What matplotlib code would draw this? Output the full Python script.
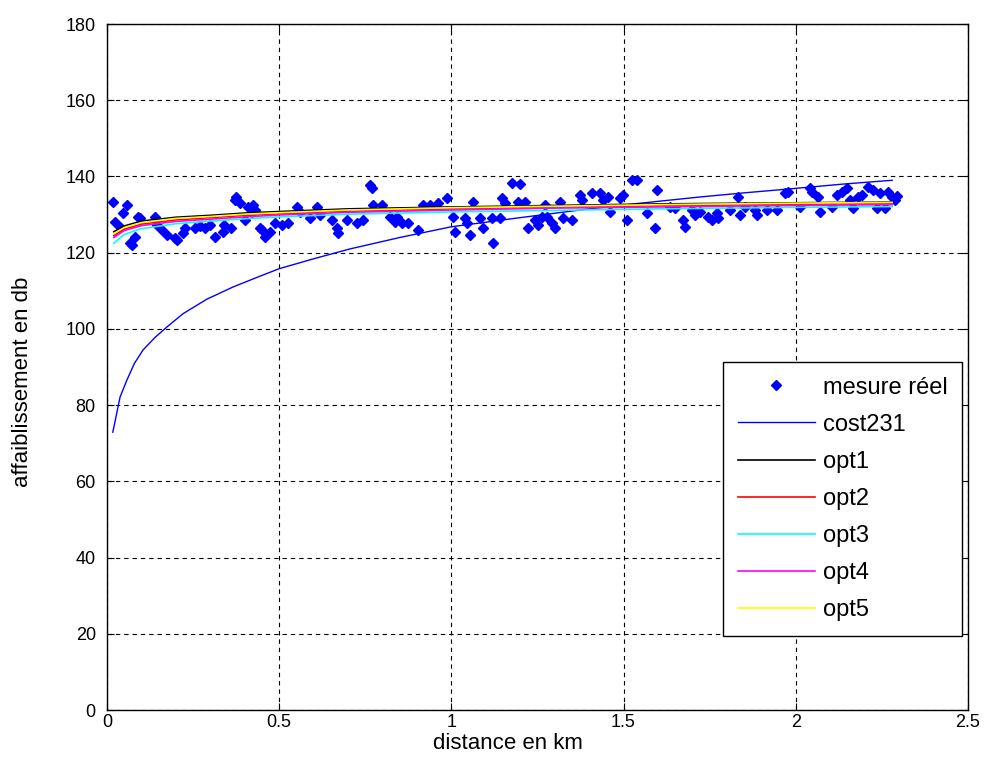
import matplotlib
matplotlib.use("Agg")

import matplotlib.pyplot as plt

# measured points (distance km, attenuation dB)
dist_mes = [0.017, 0.023, 0.038, 0.046, 0.058, 0.067, 0.073, 0.081, 0.09, 0.096,
            0.139, 0.145, 0.16, 0.174, 0.197, 0.203, 0.221, 0.226, 0.255, 0.27,
            0.285, 0.3, 0.314, 0.337, 0.34, 0.36, 0.372, 0.375, 0.386, 0.4,
            0.409, 0.421, 0.424, 0.43, 0.444, 0.45, 0.459, 0.473, 0.488, 0.508,
            0.526, 0.552, 0.56, 0.589, 0.61, 0.618, 0.653, 0.668, 0.671, 0.697,
            0.726, 0.743, 0.764, 0.769, 0.773, 0.798, 0.822, 0.836, 0.842, 0.857,
            0.874, 0.903, 0.918, 0.938, 0.961, 0.987, 1.005, 1.01, 1.04, 1.045,
            1.054, 1.063, 1.083, 1.092, 1.118, 1.121, 1.141, 1.147, 1.156, 1.176,
            1.193, 1.199, 1.214, 1.222, 1.243, 1.251, 1.263, 1.272, 1.278, 1.292,
            1.301, 1.315, 1.324, 1.35, 1.373, 1.379, 1.408, 1.431, 1.44, 1.455,
            1.46, 1.489, 1.498, 1.51, 1.524, 1.539, 1.568, 1.591, 1.597, 1.635,
            1.649, 1.672, 1.678, 1.699, 1.707, 1.722, 1.745, 1.757, 1.771, 1.774,
            1.809, 1.832, 1.838, 1.852, 1.882, 1.887, 1.916, 1.945, 1.969, 1.977,
            2.012, 2.041, 2.047, 2.064, 2.07, 2.105, 2.12, 2.134, 2.149, 2.157,
            2.166, 2.181, 2.192, 2.21, 2.224, 2.236, 2.244, 2.259, 2.268, 2.279,
            2.288, 2.294]
att_mes = [133.3, 128.0, 126.7, 130.4, 132.5, 122.5, 122.0, 124.1, 129.4, 129.1,
           129.4, 127.3, 126.0, 124.6, 123.9, 123.3, 125.2, 126.5, 126.5, 127.0,
           126.5, 127.3, 124.1, 125.4, 127.3, 126.5, 133.8, 134.6, 133.0, 128.6,
           132.0, 130.7, 132.5, 131.2, 126.5, 126.0, 124.1, 125.4, 127.8, 127.3,
           127.8, 132.0, 130.7, 129.1, 132.0, 129.9, 128.6, 126.5, 125.2, 128.6,
           127.8, 128.6, 137.8, 137.0, 132.5, 132.5, 129.4, 128.0, 129.4, 127.8,
           127.8, 126.0, 132.5, 132.5, 133.0, 134.3, 129.4, 125.4, 129.1, 127.8,
           124.6, 133.3, 129.1, 126.5, 129.1, 122.5, 129.1, 134.3, 133.0, 138.3,
           133.3, 138.0, 133.3, 126.5, 128.6, 127.3, 129.4, 132.5, 129.4, 127.8,
           126.5, 133.3, 129.1, 128.6, 135.1, 133.8, 135.7, 135.7, 133.8, 134.6,
           130.7, 134.3, 135.1, 128.6, 139.1, 139.1, 130.4, 126.5, 136.4, 132.0,
           131.7, 128.6, 126.7, 131.2, 129.9, 130.7, 129.4, 128.6, 130.4, 129.1,
           131.2, 134.6, 129.9, 132.0, 131.2, 129.9, 131.2, 131.2, 135.7, 135.9,
           132.0, 137.0, 135.9, 134.6, 130.7, 132.0, 135.1, 135.9, 137.0, 133.8,
           131.7, 134.6, 135.1, 137.2, 136.4, 131.7, 135.7, 131.7, 135.9, 134.6,
           133.8, 135.0]

# cost231 model
dist_cost = [0.017, 0.038, 0.058, 0.08, 0.105, 0.14, 0.174, 0.221, 0.29, 0.366,
             0.435, 0.5, 0.6, 0.706, 0.851, 1.0, 1.2, 1.4, 1.55, 1.72, 1.85,
             1.99, 2.137, 2.28]
att_cost = [72.9, 82.1, 86.6, 91.0, 94.5, 97.8, 100.5, 104.0, 107.8, 111.0,
            113.5, 115.8, 118.4, 121.0, 124.0, 126.8, 129.2, 131.5, 133.0, 134.6,
            135.7, 136.8, 138.0, 139.0]

# optimised models
dist_opt = [0.02, 0.05, 0.1, 0.2, 0.3, 0.4, 0.5, 0.7, 1.0, 1.3, 1.6, 2.0, 2.28]
att_opt1 = [125.5, 127.0, 128.3, 129.3, 129.8, 130.4, 130.8, 131.5, 132.0, 132.4, 132.8, 133.1, 133.3]
att_opt2 = [124.5, 126.2, 127.5, 128.6, 129.2, 129.8, 130.2, 130.9, 131.5, 132.0, 132.3, 132.7, 132.9]
att_opt3 = [122.5, 124.8, 126.3, 127.6, 128.3, 128.9, 129.4, 130.1, 130.7, 131.1, 131.5, 131.9, 132.1]
att_opt4 = [124.0, 125.8, 127.1, 128.2, 128.8, 129.4, 129.9, 130.6, 131.2, 131.7, 132.0, 132.4, 132.6]
att_opt5 = [125.0, 126.6, 127.9, 129.0, 129.5, 130.1, 130.5, 131.2, 131.8, 132.2, 132.6, 133.0, 133.2]

plt.rcParams["font.family"] = ["Liberation Sans", "DejaVu Sans"]

fig = plt.figure(figsize=(9.94, 7.8), dpi=100)
ax = fig.add_axes([0.1076, 0.0897, 0.8662, 0.8795])

ax.plot(dist_mes, att_mes, "D", color="blue", markersize=5, label="mesure réel")
ax.plot(dist_cost, att_cost, color="blue", lw=1, label="cost231")
ax.plot(dist_opt, att_opt1, color="black", lw=1.2, label="opt1")
ax.plot(dist_opt, att_opt2, color="red", lw=1.2, label="opt2")
ax.plot(dist_opt, att_opt3, color="cyan", lw=1.2, label="opt3")
ax.plot(dist_opt, att_opt4, color="magenta", lw=1.2, label="opt4")
ax.plot(dist_opt, att_opt5, color="yellow", lw=1.2, label="opt5")

ax.set_xlim(0, 2.5)
ax.set_ylim(0, 180)
ax.set_xticks([0, 0.5, 1, 1.5, 2, 2.5])
ax.set_xticklabels(["0", "0.5", "1", "1.5", "2", "2.5"])
ax.set_yticks(range(0, 181, 20))
ax.grid(True, color="black", linestyle=(0, (4, 3.5)), linewidth=0.8)
ax.tick_params(direction="in", top=True, right=True, length=5, labelsize=13)
ax.tick_params(axis="y", pad=8)
ax.tick_params(axis="x", pad=2.5)
for s in ax.spines.values():
    s.set_linewidth(1)

ax.set_xlabel("distance en km", fontsize=16)
ax.set_ylabel("affaiblissement en db", fontsize=16)
ax.xaxis.set_label_coords(0.466, -0.033)
ax.yaxis.set_label_coords(-0.086, 0.478)

leg = ax.legend(loc="lower right", bbox_to_anchor=(0.993, 0.108), borderaxespad=0,
                fancybox=False, edgecolor="black", framealpha=1, fontsize=17,
                handlelength=3.3, labelspacing=0.64, borderpad=0.62,
                handletextpad=0.3)
leg.get_frame().set_linewidth(1)

fig.savefig("out.png", dpi=100)
